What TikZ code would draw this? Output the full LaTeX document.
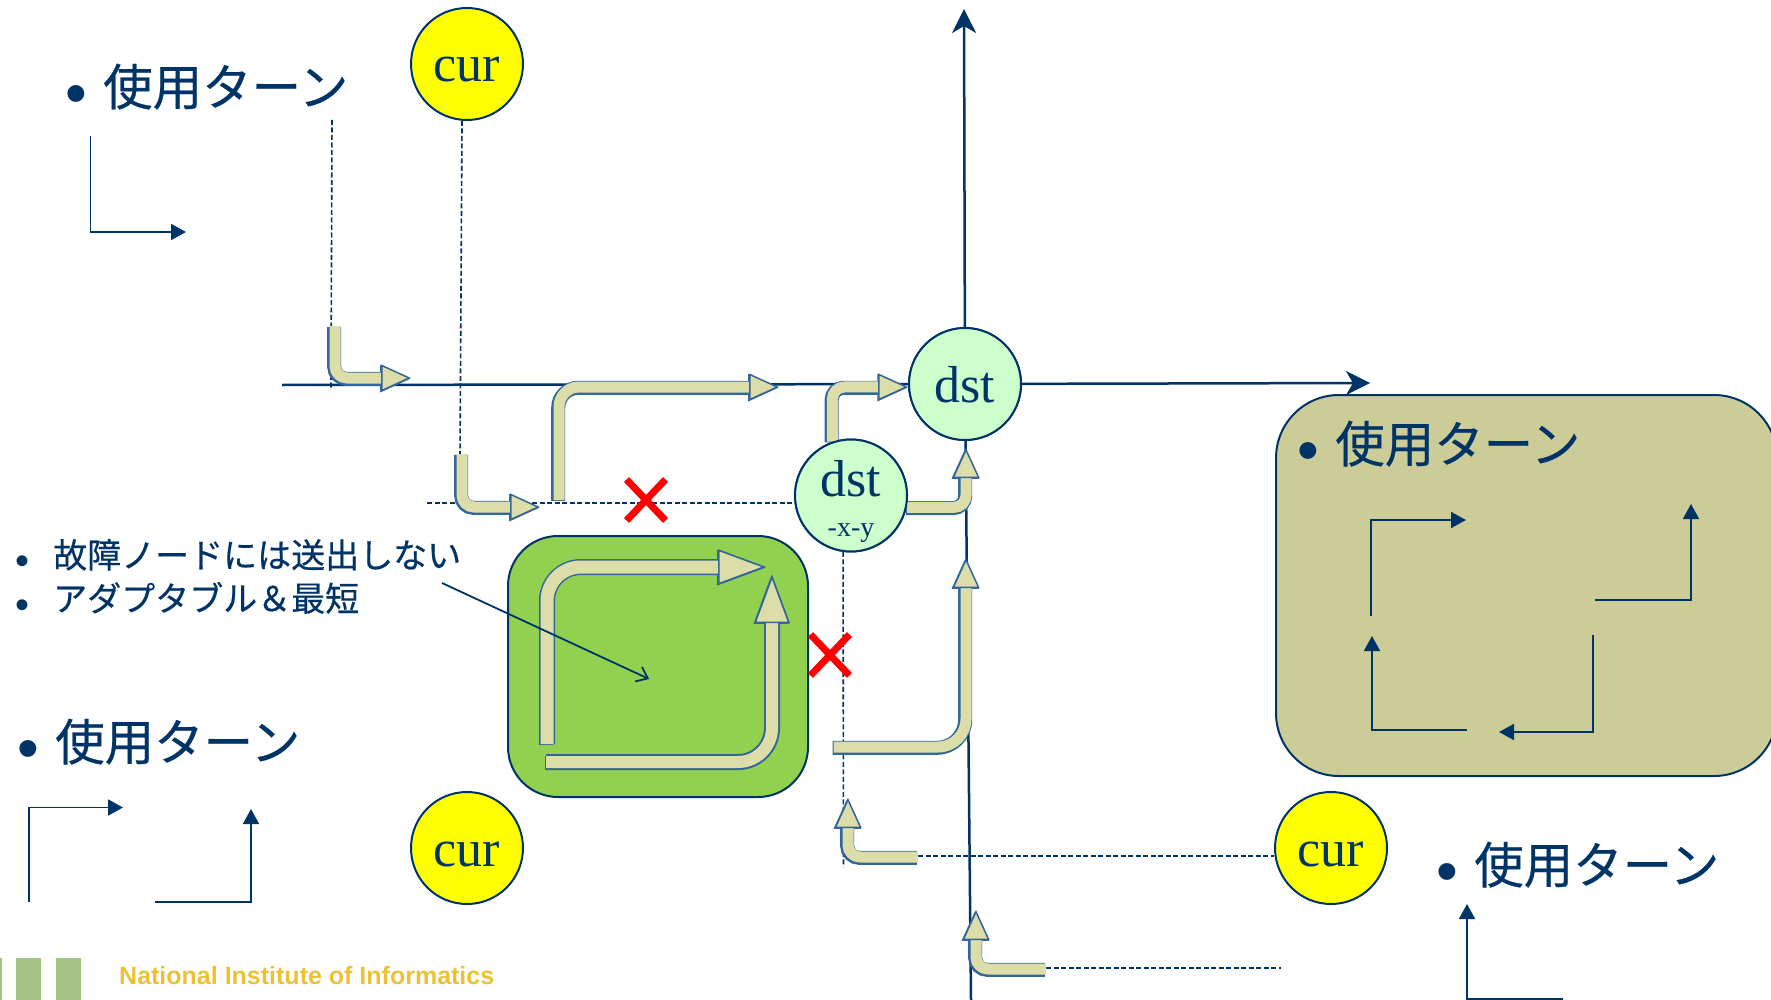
\documentclass[tikz,border=0pt]{standalone}
\usepackage{fontspec}
\setmainfont{Liberation Serif}
\newfontfamily\jpfont[FakeBold=0.5]{Noto Sans CJK JP}
\newfontfamily\bulletfont{Liberation Sans}
\usetikzlibrary{arrows.meta,shapes.misc}

\definecolor{navy}{HTML}{003366}
\definecolor{flowfill}{HTML}{DDDDAA}
\definecolor{flowedge}{HTML}{336699}
\definecolor{mint}{HTML}{CCFFCC}
\definecolor{curyellow}{HTML}{FFFF00}
\definecolor{crossred}{HTML}{FF0000}
\definecolor{boxgreen}{HTML}{92D050}
\definecolor{boxkhaki}{HTML}{CCCC99}
\definecolor{barcolor}{HTML}{A5C285}
\definecolor{logotext}{HTML}{EBC136}

\newcommand{\turnlabel}{\makebox[38pt][l]{\raisebox{-9pt}{\bulletfont\fontsize{62}{62}\selectfont\textbullet}}使用ターン}
\newcommand{\listbullet}{\makebox[38pt][l]{\raisebox{-7pt}{\bulletfont\fontsize{40}{40}\selectfont\textbullet}}}
\newcommand{\dstxylabel}{\rule{0pt}{48pt}dst\\[-12pt]{\fontsize{28}{28}\selectfont -x-y}}

\tikzset{
  circnode/.style={circle,draw=navy,line width=2pt,minimum size=112pt,inner sep=0pt,text=navy,font=\fontsize{52}{52}\selectfont},
  curnode/.style={circnode,fill=curyellow,text height=36pt,text depth=0pt},
  dstnode/.style={circnode,fill=mint,text height=36pt,text depth=0pt},
  axis/.style={draw=navy,line width=2.5pt},
  axisarrow/.style={axis,-{Stealth[length=24pt,width=24pt,inset=7pt]}},
  turnarrow/.style={draw=navy,line width=1.8pt,-{Triangle[length=15pt,width=16pt]}},
  dashline/.style={draw=navy,line width=1.6pt,dash pattern=on 5pt off 2.5pt},
  flowarrow/.style={draw=flowfill,line width=11pt,rounded corners=12pt,preaction={draw=flowedge,line width=14pt,transform canvas={shift={(-0.8pt,-0.8pt)}}},-{Triangle[length=30pt,width=27pt,fill=flowfill,color=flowedge,line width=1.5pt]}},
  bigflow/.style={flowarrow,line width=13pt,rounded corners=34pt,preaction={draw=flowedge,line width=16pt},-{Triangle[length=48pt,width=35pt,fill=flowfill,color=flowedge,line width=1.5pt]}},
  crossmark/.style={cross out,draw=crossred,line width=7pt,minimum width=32pt,minimum height=34pt,inner sep=0pt},
  turntext/.style={anchor=west,inner sep=0pt,text=navy,font=\fontsize{49.5}{50}\jpfont},
  listtext/.style={anchor=west,inner sep=0pt,text=navy,font=\fontsize{34}{34}\jpfont},
  roundbox/.style={draw=navy,line width=2pt,rounded corners=50pt,anchor=north west,inner sep=0pt},
}

\begin{document}
\begin{tikzpicture}[x=1pt,y=-1pt]
\useasboundingbox (0,0) rectangle (1771,1000);

%BOXES
\node[roundbox,fill=boxgreen,minimum width=300pt,minimum height=261pt](failbox) at (507,535) {};
\node[roundbox,fill=boxkhaki,rounded corners=63pt,minimum width=501pt,minimum height=381pt](turnbox) at (1275,394) {};

%NODES
\node[curnode](cur1) at (467,64) {cur};
\node[curnode](cur2) at (467,848) {cur};
\node[curnode](cur3) at (1331,848) {cur};
\node[dstnode](dst) at (965,384) {dst};
\node[circnode,fill=mint,align=center](dstxy) at (851,495.5) {\dstxylabel};

%FREE ENDS
\coordinate (axleft) at (282,385);
\coordinate (axright) at (1370,383);
\coordinate (axtop) at (964,9);
\coordinate (axbottom) at (971,1000);

\coordinate (d1top) at (332,120);
\coordinate (d1end) at (331,390);
\coordinate (d2end) at (460,455);
\coordinate (d3end) at (427,503);
\coordinate (d4end) at (843.5,867);
\coordinate (d5end) at (918,856);
\coordinate (d6start) at (1046,968);
\coordinate (d6end) at (1281,968);

\coordinate (f1start) at (335,326);
\coordinate (f1tip) at (411,378);
\coordinate (f2start) at (462,454);
\coordinate (f2tip) at (540,507);
\coordinate (f3start) at (559,500);
\coordinate (f3tip) at (779,387);
\coordinate (f5tip) at (966,448);
\coordinate (f6start) at (833.5,747);
\coordinate (f6tip) at (966,558);
\coordinate (f7start) at (547,744);
\coordinate (f7tip) at (766,567);
\coordinate (f8start) at (546,762);
\coordinate (f8tip) at (772,575);
\coordinate (f9start) at (918,857);
\coordinate (f9tip) at (848,798);
\coordinate (f10start) at (1046,969);
\coordinate (f10tip) at (976,910);

%AXES
\draw[axis] (axleft) -- (dst);
\draw[axisarrow] (dst) -- (axright);
\draw[axisarrow] (dst) -- (axtop);
\draw[axis] (dst) -- (axbottom);

%DASHED
\draw[dashline] (d1top) -- (d1end);
\draw[dashline] (cur1.265) -- (d2end);
\draw[dashline] (d3end) -- (dstxy.west |- d3end);
\draw[dashline] (dstxy.262) -- (d4end);
\draw[dashline] (d5end) -- (cur3.west |- d5end);
\draw[dashline] (d6start) -- (d6end);

%FLOW
\draw[flowarrow] (f1start) |- (f1tip);
\draw[flowarrow] (f2start) |- (f2tip);
\draw[flowarrow,rounded corners=20pt] (f3start) |- (f3tip);
\draw[flowarrow] (dstxy.109) |- (dst.183);
\draw[flowarrow] (dstxy.-12) -| (f5tip);
\draw[flowarrow,rounded corners=28pt] (f6start) -| (f6tip);
\draw[bigflow] (f7start) |- (f7tip);
\draw[bigflow,line width=12pt,preaction={draw=flowedge,line width=15pt}] (f8start) -| (f8tip);
\draw[flowarrow] (f9start) -| (f9tip);
\draw[flowarrow] (f10start) -| (f10tip);

%REDRAW CIRCLES OVER THE ENDS
\node[dstnode](dst) at (965,384) {dst};
\node[circnode,fill=mint,align=center](dstxy) at (851,495.5) {\dstxylabel};

%CROSSES
\node[crossmark](cross1) at (646,500) {};
\node[crossmark](cross2) at (830,655) {};

%TEXT
\node[turntext](turn1) at (65,89) {\turnlabel};
\node[turntext](turn2) at (17,744) {\turnlabel};
\node[turntext](turn3) at (1297,446) {\turnlabel};
\node[turntext](turn4) at (1436,867) {\turnlabel};
\node[listtext](list1) at (15,557) {\listbullet 故障ノードには送出しない};
\node[listtext](list2) at (15,600) {\listbullet アダプタブル＆最短};

%POINTER
\coordinate (ptstart) at (442,583);
\coordinate (ptend) at (649,679);
\draw[draw=navy,line width=1.8pt,-{Straight Barb[length=10pt,width=16pt]}] (ptstart) -- (ptend);

%TURNS
\coordinate (a1) at (90.5,136);
\coordinate (a2) at (90.5,232);
\coordinate (a3) at (186,232);
\draw[turnarrow] (a1) -- (a2) -- (a3);

\coordinate (b1) at (29,902);
\coordinate (b2) at (29,807.5);
\coordinate (b3) at (123,807.5);
\draw[turnarrow] (b1) -- (b2) -- (b3);
\coordinate (c1) at (155,902);
\coordinate (c2) at (251,902);
\coordinate (c3) at (251,809);
\draw[turnarrow] (c1) -- (c2) -- (c3);

\coordinate (k1) at (1371,616);
\coordinate (k2) at (1371,520);
\coordinate (k3) at (1466,520);
\draw[turnarrow] (k1) -- (k2) -- (k3);
\coordinate (k4) at (1595,600);
\coordinate (k5) at (1691,600);
\coordinate (k6) at (1691,504);
\draw[turnarrow] (k4) -- (k5) -- (k6);
\coordinate (k7) at (1593,635);
\coordinate (k8) at (1593,732);
\coordinate (k9) at (1499,732);
\draw[turnarrow] (k7) -- (k8) -- (k9);
\coordinate (k10) at (1467,730);
\coordinate (k11) at (1372,730);
\coordinate (k12) at (1372,636);
\draw[turnarrow] (k10) -- (k11) -- (k12);

\coordinate (e1) at (1563,999);
\coordinate (e2) at (1467,999);
\coordinate (e3) at (1467,904);
\draw[turnarrow] (e1) -- (e2) -- (e3);

%FOOTER
\fill[barcolor] (0,958) rectangle (2,1000);
\fill[barcolor] (16,958) rectangle (41,1000);
\fill[barcolor] (56,958) rectangle (81,1000);
\node[anchor=west,inner sep=0pt,text=logotext,font=\bulletfont\bfseries\fontsize{25}{25}\selectfont](logo) at (119,976) {National Institute of Informatics};

\end{tikzpicture}
\end{document}
